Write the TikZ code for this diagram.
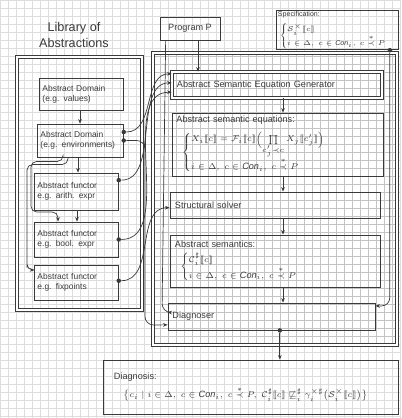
\documentclass[tikz,border=0pt]{standalone}
\usepackage{fontspec}
\usepackage{amsmath,amssymb}
\setmainfont{Liberation Sans}
\usetikzlibrary{arrows.meta,calc}
\definecolor{ink}{HTML}{3A3A3A}
\definecolor{gridfaint}{HTML}{DDDDDD}
\definecolor{gridstrong}{HTML}{C4C4C4}
\newcommand{\sembr}[1]{[\![#1]\!]}
\newcommand{\Con}{\mathit{Con}}
\newcommand{\reach}{\overset{*}{\prec}}

\tikzset{
  box/.style={draw=ink, line width=0.6pt, inner sep=2pt, align=left, text=ink,
              font=\fontsize{6.5}{7.6}\selectfont},
  libbox/.style={box, font=\fontsize{6}{7.2}\selectfont, minimum width=2.075cm, text width=1.95cm},
  dframe/.style={draw=ink, line width=0.5pt, double=white, double distance=1.6pt},
  link/.style={draw=ink, line width=0.5pt, -{Stealth[length=3.2pt,width=2.6pt]}},
  dot/.style={circle, fill=ink, inner sep=0pt, minimum size=3.2pt},
}

\begin{document}
\begin{tikzpicture}[x=0.025cm, y=-0.025cm]
    \useasboundingbox (0,0) rectangle (401,418);
    % graph paper
    \draw[gridfaint, line width=0.3pt, step=0.2cm] (0,0) grid (401,418);
    \begin{scope}
      \clip (153,53) rectangle (397,345);
      \draw[gridstrong, line width=0.35pt, step=0.2cm] (0,0) grid (401,418);
    \end{scope}

    % library of abstractions
    \node[text=ink, align=center, font=\fontsize{9}{11}\selectfont] (libtitle) at (74,35) {Library of\\Abstractions};
    \node[dframe, minimum width=3.125cm, minimum height=6.325cm] (libframe) at (79.5,183.5) {};
    \node[libbox, minimum height=0.8cm] (dval) at (81.5,94) {Abstract Domain\\(e.g. values)};
    \node[libbox, minimum width=2.125cm, minimum height=0.825cm, text width=2.0cm] (denv) at (80.5,140.5) {Abstract Domain\\(e.g. environments)};
    \node[libbox, minimum height=0.925cm] (farith) at (76.5,191.5) {Abstract functor\\e.g. arith. expr};
    \node[libbox, minimum height=0.875cm] (fbool) at (76.5,239.5) {Abstract functor\\e.g. bool. expr};
    \node[libbox, minimum height=0.875cm] (ffix) at (76.5,282.5) {Abstract functor\\e.g. fixpoints};

    % analyzer
    \node[box, minimum width=1.5cm, minimum height=0.575cm, align=center] (prog) at (190,28.5) {Program P};
    \node[box, minimum width=3.05cm, minimum height=0.75cm, text width=2.95cm, inner sep=1pt,
          font=\fontsize{5}{5.4}\selectfont] (spec) at (337,30)
      {Specification:\\[2.5pt]\hspace*{0.3em}$\left\{\begin{array}{@{}l@{}}\mathcal{S}^{\times}_i\sembr{c}\\ i\in\Delta,\ c\in\Con_i,\ c\reach P\end{array}\right.$};
    \node[dframe, minimum width=6.1cm, minimum height=7.3cm] (bigframe) at (275,199) {};
    \node[box, dframe, minimum width=5.25cm, minimum height=0.65cm, text width=5cm] (gen) at (277,85) {Abstract Semantic Equation Generator};
    \node[box, minimum width=5.275cm, minimum height=1.575cm, text width=5.05cm] (eqs) at (277.5,144.5)
      {Abstract semantic equations:\\[4pt]
       \hspace*{0.6em}$\left\{\begin{array}{@{}l@{}}X_i\sembr{c} = \mathcal{F}_i\sembr{c}\Bigl(\prod\limits_{c'_j\prec c} X_j\sembr{c'_j}\Bigr)\\[1pt] i\in\Delta,\ c\in\Con_i,\ c\reach P\end{array}\right.$};
    \node[box, minimum width=5.25cm, minimum height=0.65cm, text width=5cm] (solver) at (275,205) {Structural solver};
    \node[box, minimum width=5.25cm, minimum height=1.3cm, text width=5cm] (sem) at (275,261)
      {Abstract semantics:\\[3pt]
       \hspace*{0.6em}$\left\{\begin{array}{@{}l@{}}\mathcal{C}^{\sharp}_i\sembr{c}\\[1pt] i\in\Delta,\ c\in\Con_i,\ c\reach P\end{array}\right.$};
    \node[box, minimum width=5.175cm, minimum height=0.675cm, text width=4.95cm] (diag) at (271.5,316.5) {Diagnoser};
    \node[box, minimum width=7.375cm, minimum height=1.35cm, text width=7.1cm] (diagnosis) at (250.5,387)
      {\hspace*{0.6em}Diagnosis:\\[3pt]
       \hspace*{1.6em}$\bigl\{c_i \mid i\in\Delta,\ c\in\Con_i,\ c\reach P,\ \mathcal{C}^{\sharp}_i\sembr{c}\not\sqsubseteq^{\sharp}_i\gamma^{\times\sharp}_i\bigl(\mathcal{S}^{\times}_i\sembr{c}\bigr)\bigr\}$};

    % columns for the straight arrows
    \coordinate (colx) at (283,0);
    \coordinate (progx) at (198,0);
    \coordinate (ax) at (80,0);
    \coordinate (bx) at (78,0);
    \coordinate (cx) at (77,0);
    \coordinate (lx) at (63,0);
    \coordinate (mx) at (58,0);
    \coordinate (nx) at (68,0);

    % inside the library
    \draw[link] (dval.south -| ax) -- (denv.north -| ax);
    \draw[link] (denv.south -| bx) -- (farith.north -| bx);
    \draw[link] (farith.south -| cx) -- (fbool.north -| cx);
    \draw[link, rounded corners=4] (denv.south -| lx) -- ++(0,4) -| (31,212) -| (fbool.north -| mx);
    \draw[link, rounded corners=4] (denv.south -| nx) -- ++(0,7) -| (27,262) |- ($(ffix.north west)!0.15!(ffix.south west)$);

    % analyzer chain
    \draw[link] (prog.south -| progx) -- (gen.north -| progx);
    \draw[link] (gen.south -| colx) -- (eqs.north -| colx);
    \draw[link] (eqs.south -| colx) -- (solver.north -| colx);
    \draw[link] (solver.south -| colx) -- (sem.north -| colx);
    \draw[link] (sem.south -| colx) -- (diag.north -| colx);
    \node[dot] (diagout) at ($(diag.south west)!0.54!(diag.south east)$) {};
    \draw[link] (diagout) -- (diagout |- diagnosis.north);

    % library to analyzer
    \node[dot] (envdotA) at ($(denv.north east)!0.25!(denv.south east)$) {};
    \node[dot] (envdotB) at ($(denv.north east)!0.5!(denv.south east)$) {};
    \node[dot] (arithdot) at ($(farith.north east)!0.2!(farith.south east)$) {};
    \node[dot] (booldot) at ($(fbool.north east)!0.5!(fbool.south east)$) {};
    \node[dot] (fixdot) at ($(ffix.north east)!0.45!(ffix.south east)$) {};
    \draw[link] (envdotA) to[out=0, in=180] ($(gen.north west)!0.08!(gen.south west)$);
    \draw[link] (arithdot) to[out=0, in=180, looseness=0.9] ($(gen.north west)!0.42!(gen.south west)$);
    \draw[link] (booldot) to[out=0, in=180, looseness=0.9] ($(gen.north west)!0.77!(gen.south west)$);
    \draw[link] (fixdot) to[out=0, in=180] ($(solver.north west)!0.6!(solver.south west)$);
    \draw[link, rounded corners=6] (envdotB) -| (145,325) -- ($(diag.north west)!0.8!(diag.south west)$);
    \draw[link, rounded corners=6] ($(prog.south west)!0.1!(prog.south east)$) -- (162,312) -- ($(diag.north west)!0.35!(diag.south west)$);

    % specification to diagnoser
    \node[dot] (specdot) at ($(spec.south west)!0.93!(spec.south east)$) {};
    \draw[link, rounded corners=6] (specdot) -- (specdot |- 0,306) -- ($(diag.north east)!0.12!(diag.south east)$);
  \end{tikzpicture}
\end{document}
